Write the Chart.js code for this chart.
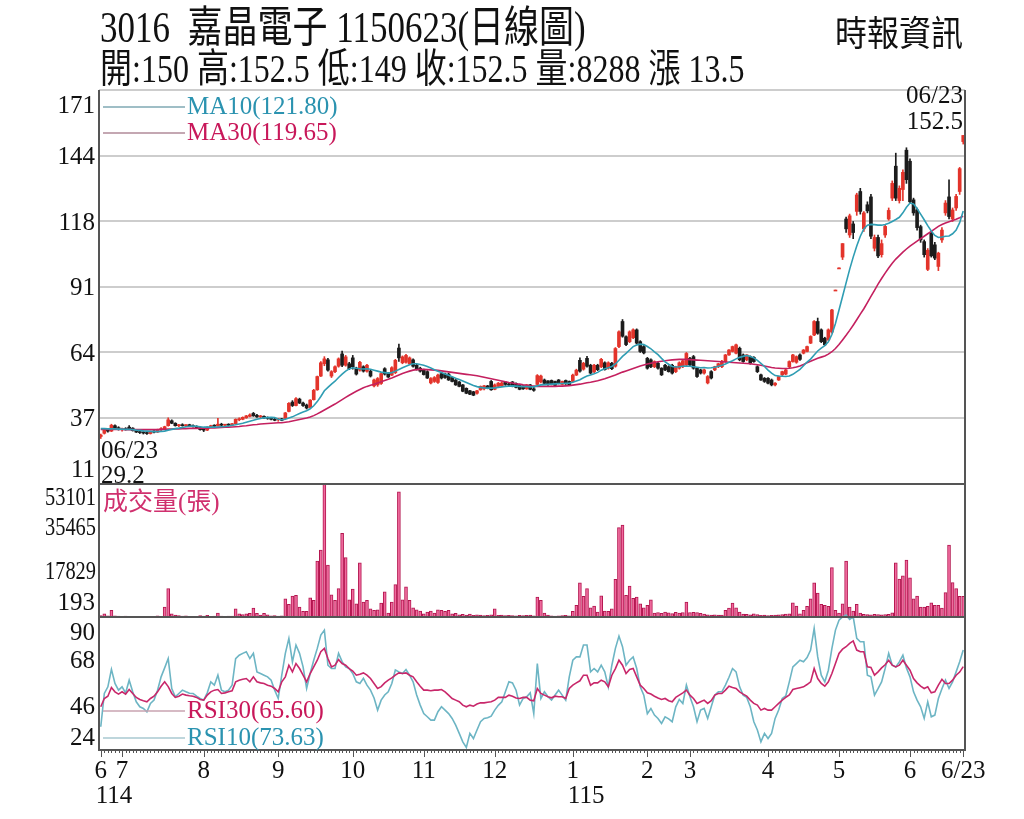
<!DOCTYPE html>
<html><head><meta charset="utf-8">
<script src="https://cdn.jsdelivr.net/npm/chart.js@4.4.1/dist/chart.umd.min.js"></script>
<style>
html,body{margin:0;padding:0;background:#fff;}
#wrap{position:relative;width:1024px;height:819px;overflow:hidden;background:#fff;}
canvas{position:absolute;left:0;top:0;}
.t{position:absolute;white-space:nowrap;font-family:"Liberation Serif","Noto Sans CJK TC",serif;color:#111;transform-origin:0 0;line-height:1;}
</style></head><body>
<div id="wrap">
<canvas id="c" width="1024" height="819"></canvas>
<div class="t" id="t1" style="left:100px;top:6px;font-size:35px;transform:scaleY(1.25)"></div>
<div class="t" id="t2" style="left:100px;top:48px;font-size:32px;transform:scaleY(1.25)"></div>
<div class="t" id="t3" style="left:835px;top:16px;font-size:32px;transform:scaleY(1.1)">時報資訊</div>
</div>
<script>
// ---------- DATA (daily, 2025/06/23 - 2026/06/23, 244 trading days) ----------
const stockCode = '3016', stockName = '嘉晶電子', chartDate = '1150623';
const firstDay = '06/23', lastDay = '06/23';
const opens = [
30.0,31.3,32.6,32.2,34.4,33.6,32.8,33.2,33.8,33.4,
32.4,31.8,31.6,31.4,31.2,31.9,31.8,32.8,33.2,34.4,
36.4,35.4,34.4,34.8,34.4,34.6,34.4,34.0,33.6,32.8,
32.6,33.8,34.4,34.4,35.0,34.6,34.8,34.6,35.2,36.8,
37.0,37.6,38.2,39.4,38.6,38.0,38.2,37.6,37.4,37.0,
36.8,37.2,37.4,40.2,44.0,42.6,45.2,43.6,42.8,41.8,
45.0,49.0,54.6,59.6,61.2,54.6,56.4,58.6,63.6,59.0,
59.6,62.0,57.8,57.0,58.4,56.6,56.6,50.6,51.0,51.6,
57.6,55.6,55.0,56.0,66.0,60.0,60.2,59.6,61.2,59.0,
57.8,57.0,56.4,51.8,52.4,52.0,55.6,55.4,55.4,54.0,
53.0,52.2,51.0,49.6,48.6,48.2,47.6,49.0,49.4,50.6,
52.4,49.2,50.4,50.6,52.2,51.2,52.2,51.6,51.0,50.2,
49.4,51.0,49.4,51.2,52.2,53.0,52.6,52.8,52.4,53.0,
51.2,52.8,52.4,52.4,55.0,61.0,57.4,61.8,59.0,56.4,
59.0,58.4,60.0,57.8,59.8,58.6,66.6,76.8,70.6,68.6,
70.2,73.4,68.6,66.6,61.8,61.2,58.4,59.8,57.8,59.0,
58.4,59.0,56.4,57.8,58.4,59.1,61.8,62.5,57.8,57.1,
55.8,51.8,56.4,57.1,58.4,58.4,60.5,63.2,64.6,63.9,
65.9,63.2,61.2,62.5,62.2,58.4,55.1,53.7,53.7,53.0,
51.0,53.0,55.1,55.4,58.4,60.5,60.2,63.2,63.9,64.6,
68.0,71.3,76.8,73.4,70.0,69.3,72.5,89.6,98.6,103.0,
118.5,112.0,116.5,121.6,129.7,114.5,124.3,127.5,106.6,111.0,
104.0,112.0,118.5,127.0,140.0,126.0,130.5,146.5,142.0,126.3,
122.2,115.4,109.3,98.0,112.7,108.0,99.2,110.0,121.0,127.5,
118.5,123.0,129.7,150.0];
const highs = [
31.0,32.8,33.2,35.0,34.8,34.0,33.4,33.6,34.4,33.6,
32.8,32.2,32.0,31.9,32.2,32.4,33.0,33.6,34.2,37.6,
36.8,35.6,35.0,35.2,34.9,35.0,34.8,34.4,33.8,33.2,
34.0,34.6,34.8,37.4,35.4,35.0,35.2,35.4,37.2,37.6,
38.0,38.6,39.2,39.8,39.0,38.6,38.4,38.0,37.8,37.4,
37.4,37.4,39.8,43.8,44.6,45.8,45.6,44.0,43.2,45.0,
49.2,54.6,60.5,62.5,61.8,56.8,58.8,62.0,64.8,63.0,
60.2,63.0,58.2,60.6,58.8,59.4,57.0,53.4,54.0,56.0,
58.0,56.0,58.4,61.4,67.6,62.8,63.4,62.4,61.6,59.4,
58.2,57.4,56.8,54.0,54.4,55.4,56.0,55.8,55.8,54.2,
53.2,52.4,51.2,49.8,48.8,48.4,48.8,50.6,50.8,50.8,
52.8,51.4,52.0,52.2,52.4,51.8,52.4,51.8,51.2,50.8,
51.2,51.2,50.0,55.2,55.0,53.4,52.8,53.0,52.6,53.2,
52.6,53.0,52.6,55.4,57.4,62.0,60.2,62.6,59.4,59.4,
59.4,61.8,60.4,60.4,60.2,66.2,73.0,77.6,71.0,73.0,
73.8,73.8,69.0,67.0,62.2,61.6,60.8,60.2,58.0,59.4,
58.8,59.4,58.6,60.4,61.2,64.2,62.2,63.0,58.2,57.4,
57.4,54.8,56.8,58.6,59.8,61.0,63.4,65.4,66.8,67.6,
66.4,63.6,63.4,62.8,62.5,58.8,55.4,54.0,54.0,53.4,
51.9,54.6,56.6,57.4,60.8,63.4,62.8,63.6,65.4,66.8,
71.0,77.2,78.2,73.8,70.4,73.8,81.8,89.6,98.6,108.5,
119.3,120.5,117.5,129.0,131.0,121.5,125.5,128.5,112.0,112.0,
110.0,116.0,123.0,134.0,145.3,132.0,138.5,147.5,143.0,127.0,
123.0,116.0,110.0,106.5,113.5,109.0,105.0,115.0,126.0,134.4,
123.0,128.5,139.5,152.5];
const lows = [
29.2,31.0,31.8,32.0,32.8,32.6,32.2,32.6,33.0,32.2,
31.6,31.2,31.0,30.8,31.0,31.5,31.6,32.4,33.0,34.2,
35.2,34.2,34.0,34.2,34.0,34.2,33.8,33.4,32.6,32.0,
32.4,33.6,34.0,34.2,34.4,34.2,34.4,34.4,35.0,36.4,
36.8,37.4,38.0,38.2,37.8,37.6,37.4,37.0,36.8,36.4,
36.2,36.4,37.2,40.0,42.2,42.4,43.4,42.2,41.2,41.6,
44.8,48.8,54.4,58.8,56.6,54.0,56.0,58.2,58.4,58.6,
57.2,57.4,55.0,56.6,56.2,56.2,54.2,50.2,50.4,51.2,
55.0,54.0,54.8,55.6,60.6,59.6,59.8,59.2,58.2,57.0,
56.2,55.0,53.6,51.4,52.0,51.6,53.4,53.6,52.8,52.2,
50.8,50.2,48.2,47.4,47.0,46.6,47.2,48.8,49.0,49.4,
48.8,49.0,50.2,50.4,50.8,50.6,50.2,49.8,49.0,49.2,
49.2,49.0,48.4,51.0,51.8,51.2,50.8,51.0,50.6,51.4,
51.0,51.2,50.8,52.2,54.8,56.2,57.0,58.2,55.4,56.0,
56.8,58.0,57.0,57.4,57.2,58.2,66.2,70.4,67.0,68.2,
69.8,67.6,64.2,63.6,57.4,58.0,58.0,57.4,54.8,56.8,
56.2,55.4,56.0,57.4,58.0,58.8,58.8,57.4,54.0,55.4,
55.4,51.4,53.4,56.8,58.0,58.0,60.2,63.0,64.4,63.6,
60.8,60.2,60.8,59.4,60.2,56.0,52.8,52.0,51.4,50.6,
50.6,52.8,54.8,55.1,58.0,60.2,59.8,61.0,63.6,64.4,
67.8,71.0,71.6,68.2,67.0,69.0,72.0,89.6,98.6,102.0,
113.0,111.0,110.5,120.0,120.5,113.5,121.0,110.5,105.5,102.8,
103.0,111.0,118.0,126.0,126.0,125.0,126.0,133.0,125.0,120.0,
114.0,109.0,103.0,97.5,103.0,102.0,97.5,109.0,120.0,118.5,
117.5,122.0,128.5,149.0];
const closes = [
30.6,32.6,32.2,34.6,33.0,32.8,33.2,32.8,33.2,32.4,
31.8,31.6,31.4,31.2,31.9,31.8,32.8,33.2,34.0,36.8,
35.4,34.4,34.8,34.4,34.6,34.4,34.0,33.6,32.8,32.6,
33.8,34.4,34.2,35.0,34.6,34.8,34.6,35.2,37.0,37.2,
37.8,38.4,38.8,38.4,38.0,38.2,37.6,37.4,37.0,36.6,
37.2,36.6,39.6,43.5,42.6,45.4,43.6,42.6,41.6,44.8,
48.8,54.4,60.0,61.6,57.0,56.4,58.4,61.6,59.0,62.4,
57.6,58.4,55.4,60.2,56.6,59.0,54.6,53.0,53.6,55.6,
55.4,54.2,58.0,61.0,62.0,62.4,63.0,62.0,58.6,57.2,
56.6,55.2,53.8,53.6,54.0,55.0,53.8,54.0,53.0,52.4,
51.0,50.4,48.4,47.6,47.2,46.8,48.6,50.4,50.6,49.8,
49.0,51.0,51.7,51.8,51.2,51.0,50.4,50.0,49.2,49.4,
51.0,49.2,48.8,54.8,54.6,51.6,51.2,51.4,50.8,51.8,
52.4,51.4,51.0,55.0,57.0,56.6,59.8,58.6,55.8,59.0,
57.2,61.4,57.2,60.0,57.6,65.8,72.6,70.8,67.4,72.6,
73.4,68.0,64.6,64.0,57.8,58.4,60.5,57.8,55.1,57.1,
56.4,55.8,58.4,60.0,60.8,63.8,59.1,57.8,54.4,55.8,
57.1,54.4,53.8,58.4,59.6,60.5,63.2,65.2,66.6,67.3,
61.2,60.5,63.2,59.8,60.5,56.4,53.0,52.4,51.7,51.0,
51.7,54.4,56.4,57.1,60.5,63.2,62.5,61.4,65.2,66.6,
70.7,76.8,72.0,68.6,67.3,73.4,81.5,89.6,98.6,108.5,
114.5,119.8,113.0,128.3,121.6,121.0,121.8,111.5,111.0,103.5,
108.5,115.5,122.0,133.0,127.0,131.0,137.5,134.5,125.5,121.0,
115.0,110.0,104.0,105.8,103.5,102.6,104.6,114.0,125.0,119.5,
122.2,127.7,139.0,152.5];
const ma10 = [
33.2,33.2,33.1,33.1,33.1,33.0,33.0,32.9,32.9,32.8,
32.6,32.5,32.3,32.2,32.1,32.0,32.0,32.1,32.2,32.6,
32.9,33.2,33.4,33.7,34.0,34.2,34.3,34.2,34.0,33.8,
33.8,33.8,33.8,33.9,34.0,34.1,34.3,34.6,34.8,35.1,
35.4,35.8,36.2,36.6,37.0,37.3,37.6,37.7,37.8,37.7,
37.0,36.8,37.0,37.5,38.0,38.7,39.4,40.0,40.5,41.3,
42.5,44.2,46.3,48.6,50.0,51.3,52.5,54.0,55.4,56.6,
57.5,58.0,57.8,57.6,57.5,57.6,57.4,57.0,56.6,56.2,
56.0,55.8,56.0,56.6,57.3,58.0,58.6,59.2,59.6,59.6,
59.3,59.0,58.5,57.9,57.2,56.6,56.0,55.4,54.9,54.3,
53.7,53.2,52.6,52.0,51.4,50.8,50.3,50.0,49.8,49.7,
49.7,49.8,50.0,50.2,50.4,50.5,50.6,50.5,50.4,50.3,
50.3,50.2,50.2,50.6,51.0,51.1,51.2,51.3,51.4,51.5,
51.6,51.7,51.7,52.1,52.6,53.1,53.9,54.6,55.0,55.5,
56.1,57.0,57.6,58.0,58.5,59.5,61.0,62.6,63.8,65.2,
66.6,67.2,67.6,67.4,66.6,65.7,64.4,63.3,61.8,60.4,
59.4,58.5,58.3,58.4,58.6,58.7,58.6,58.4,58.2,58.0,
58.1,57.9,58.0,58.2,58.6,59.0,59.5,60.2,60.8,61.6,
62.2,62.6,63.0,62.6,62.0,61.0,59.8,58.5,57.0,55.8,
54.8,54.6,54.5,54.4,54.6,55.3,56.3,57.3,58.8,60.3,
61.5,63.2,64.8,66.0,67.0,68.5,71.5,76.0,81.5,87.0,
92.5,98.0,103.0,107.5,111.5,114.5,116.0,116.3,116.2,116.0,
116.0,116.3,116.8,117.5,118.3,119.2,121.0,123.3,125.0,124.6,
122.8,120.5,118.2,115.8,113.6,111.8,111.0,111.2,111.5,111.6,
112.5,114.0,117.0,121.80];
const ma30 = [
32.9,32.9,32.9,32.9,32.9,32.9,32.9,32.8,32.8,32.8,
32.8,32.8,32.8,32.8,32.8,32.8,32.8,32.9,32.9,33.0,
33.0,33.1,33.1,33.2,33.2,33.3,33.3,33.3,33.4,33.4,
33.4,33.5,33.5,33.6,33.7,33.8,33.8,33.9,34.0,34.1,
34.3,34.4,34.6,34.8,34.9,35.1,35.2,35.3,35.4,35.5,
35.6,35.6,35.8,36.0,36.3,36.6,36.9,37.2,37.5,37.9,
38.5,39.2,40.0,40.8,41.6,42.4,43.2,44.1,45.0,45.9,
46.8,47.6,48.4,49.1,49.8,50.4,50.9,51.3,51.8,52.3,
52.8,53.3,53.8,54.4,55.0,55.6,56.1,56.6,57.0,57.2,
57.3,57.3,57.2,57.1,57.0,56.9,56.7,56.5,56.3,56.1,
55.9,55.7,55.5,55.3,55.1,54.9,54.7,54.4,54.1,53.8,
53.5,53.2,52.9,52.6,52.3,52.0,51.8,51.5,51.3,51.0,
50.8,50.6,50.5,50.4,50.4,50.4,50.4,50.4,50.4,50.5,
50.5,50.6,50.7,50.9,51.1,51.3,51.6,51.9,52.1,52.4,
52.7,53.1,53.5,54.0,54.5,55.0,55.6,56.2,56.7,57.2,
57.7,58.2,58.7,59.1,59.5,59.8,60.1,60.4,60.6,60.8,
61.0,61.2,61.3,61.4,61.4,61.4,61.3,61.2,61.1,61.0,
60.9,60.8,60.7,60.6,60.5,60.4,60.3,60.2,60.1,60.0,
59.9,59.8,59.7,59.6,59.4,59.2,59.0,58.7,58.4,58.1,
57.9,57.8,57.7,57.7,57.8,58.0,58.3,58.7,59.3,60.0,
60.6,61.2,61.8,62.3,62.8,63.5,64.5,65.8,67.4,69.3,
71.2,73.2,75.3,77.5,79.8,82.0,84.5,87.0,89.5,92.0,
94.3,96.5,98.6,100.5,102.2,103.6,105.0,106.3,107.5,108.5,
109.5,110.5,111.5,112.5,113.5,114.5,115.5,116.3,116.9,117.4,
117.9,118.4,119.0,119.65];
const volumes = [
600,1300,500,2700,500,400,300,400,300,300,
250,200,200,250,300,300,500,300,4000,11300,
1300,800,600,400,500,300,250,300,600,400,
700,300,400,1600,400,300,350,400,3300,1300,
1000,1300,1500,3600,1500,800,1500,900,500,600,
400,500,7300,5100,8400,8700,4000,2300,2300,7700,
6700,22300,26700,53101,20700,8900,6700,11300,33400,23700,
6900,11100,5300,21600,6000,6700,3300,2700,2900,5600,
10000,1600,6000,12900,50000,6900,12000,6700,3700,2900,
2400,1300,2000,2400,1600,2900,2700,2300,2700,1300,
1500,900,1100,800,1200,700,900,800,600,700,
900,3300,700,800,600,700,600,500,700,600,
700,800,500,8000,6700,1600,800,500,400,500,
600,700,500,2300,4700,13600,8300,11300,3700,4400,
2000,8500,2400,2300,3300,15000,35700,36700,8700,12300,
7500,8000,5300,3700,4700,6900,1600,1800,1500,2000,
1700,1400,1900,1600,1800,6000,1800,1900,1800,1500,
1200,900,800,900,800,800,2700,3600,5600,3700,
2000,1200,1100,900,1300,1000,700,800,600,700,
800,900,1000,1200,1300,5700,4400,1300,2700,4300,
7300,13600,9600,5100,4700,4300,19700,2700,1600,5300,
22300,4000,2400,5100,1600,1100,1000,900,1100,1000,
900,1000,1100,1700,21600,15100,16400,22700,15600,7300,
8400,4000,4000,4300,5700,4700,4700,3600,9700,28700,
13700,11300,8300,8288];
const rsi10 = [
36.7,52.7,55.9,64.3,57.5,54.3,55.9,53.0,59.1,53.5,
48.7,46.3,45.5,43.9,47.9,49.5,54.3,60.7,65.0,69.5,
55.1,51.1,52.7,54.3,53.5,52.8,52.7,51.4,50.3,49.5,
53.0,58.3,56.7,61.5,54.3,53.5,54.3,56.7,69.5,71.1,
72.0,72.8,69.5,72.0,63.1,62.3,61.5,60.7,59.1,54.3,
50.3,61.5,72.0,79.2,67.9,76.0,72.0,65.5,55.1,62.3,
68.7,74.4,80.8,83.2,66.3,64.7,64.7,72.0,68.0,65.5,
64.7,62.3,58.3,57.5,60.0,56.7,54.3,50.5,44.7,49.5,
52.0,53.5,57.5,64.0,63.1,62.3,64.2,61.5,58.3,52.0,
47.1,43.0,41.5,39.9,39.9,43.9,46.3,44.7,43.0,40.7,
37.5,33.5,29.4,26.7,33.5,31.0,35.1,39.1,40.7,41.0,
41.8,44.7,47.0,48.7,53.5,58.3,57.8,54.3,47.1,50.3,
51.1,53.0,43.0,67.1,50.3,53.5,51.1,49.5,52.0,54.3,
51.9,49.5,60.7,68.7,70.3,70.3,76.0,76.0,63.1,64.7,
63.1,66.3,63.1,55.9,66.3,74.4,80.3,75.2,66.3,68.7,
70.3,64.7,55.9,51.9,43.0,45.5,42.3,40.7,38.3,41.5,
40.5,39.1,46.3,49.8,47.9,56.7,51.1,46.3,39.1,44.7,
45.5,40.7,46.3,51.9,53.5,53.5,56.7,60.5,64.7,63.1,
55.9,51.9,50.8,46.3,39.1,35.1,29.4,33.5,31.0,33.5,
40.7,44.7,50.3,51.5,58.3,65.5,67.1,68.7,68.0,70.0,
73.6,84.0,70.3,61.5,58.3,63.9,74.4,83.2,88.0,89.5,
90.4,88.3,89.6,79.2,77.6,77.6,61.5,60.7,51.9,55.0,
58.3,64.7,72.0,66.3,65.5,67.9,71.1,65.0,60.7,53.5,
49.5,46.3,40.7,48.7,41.5,42.3,50.3,55.0,59.1,55.1,
58.3,63.1,68.0,73.63];
const rsi30 = [
46.3,50.3,51.4,55.6,53.5,52.4,53.5,52.4,54.6,52.7,
50.8,49.8,49.2,48.7,50.3,51.4,53.5,56.2,58.3,56.0,
52.7,50.8,51.4,52.4,51.9,51.6,51.4,50.8,49.8,49.5,
51.9,53.5,54.3,54.6,52.7,53.0,53.5,54.0,58.3,59.1,
59.5,59.9,58.3,60.7,58.3,57.8,57.5,56.7,56.2,55.1,
53.5,58.3,60.7,66.3,63.1,67.1,64.7,61.5,58.3,62.3,
65.5,68.7,72.8,74.4,69.5,65.5,66.3,69.0,67.1,66.3,
64.7,63.5,61.5,62.0,62.6,61.5,59.9,57.5,55.1,56.0,
57.8,59.1,60.2,61.5,62.6,62.3,62.6,61.5,60.7,58.3,
56.2,54.3,54.3,54.0,54.3,54.3,54.6,53.5,51.9,50.3,
49.5,48.7,47.1,46.3,47.1,46.6,47.6,48.2,48.2,48.5,
48.7,49.5,50.8,50.8,50.8,51.9,51.4,50.5,50.3,50.8,
50.8,49.5,49.2,55.1,52.7,51.9,51.1,50.6,51.4,51.1,
51.1,50.3,55.1,56.7,57.8,58.8,61.5,61.5,56.7,57.8,
57.8,59.1,58.3,55.9,61.5,64.7,68.7,66.3,62.3,64.2,
64.7,60.7,56.7,55.1,53.0,52.4,51.4,50.5,49.8,50.3,
49.2,48.7,50.8,51.9,53.0,54.3,51.9,50.3,47.9,48.7,
49.5,47.9,49.2,51.9,52.7,52.7,54.3,56.2,55.6,55.1,
53.5,52.4,51.4,49.5,47.9,47.1,44.7,45.5,44.7,44.7,
46.3,47.9,49.5,50.8,52.0,54.6,55.1,55.5,55.9,57.0,
58.3,64.7,59.9,57.5,56.2,58.3,62.3,67.1,72.0,74.0,
75.2,76.8,78.0,73.6,72.8,72.8,65.5,65.2,61.5,63.1,
65.0,66.5,68.7,66.3,65.5,66.3,68.7,66.3,63.9,59.9,
57.8,56.2,55.1,55.9,53.0,53.5,56.7,59.5,57.5,57.5,
59.1,61.5,63.0,65.60];

// axis tick values and labels
const priceTicks = [11, 37.667, 64.333, 91, 117.667, 144.333, 171];
const priceTickLabels = ['11','37','64','91','118','144','171'];
const volTicks = [193, 17829, 35465, 53101];
const rsiTicks = [90, 68, 46, 24];
// month starts (trading-day index), month label, year label (ROC)
const monthIdx = [0, 6, 29, 50, 71, 91, 111, 133, 154, 166, 188, 208, 228, 243];
const monthLabels = ['6','7','8','9','10','11','12','1','2','3','4','5','6','6/23'];
const yearMarks = [[0,'114'],[133,'115']];

// ---------- LAYOUT ----------
const N = closes.length;
const labels = closes.map((_, i) => String(i));
const PLOT = {left: 99, right: 965, top: 90, bottom: 750};
const BAND = {price: [90, 483.5], vol: [484, 617], rsi: [617, 750]};
function axisRange(vTop, vBot, pxTop, pxBot) {
  const k = (vTop - vBot) / (pxBot - pxTop);
  return {max: vTop + (pxTop - PLOT.top) * k, min: vBot - (PLOT.bottom - pxBot) * k};
}
const pr = axisRange(171, 11, 90, 483.2);
const vr = axisRange(53101, 0, 484, 617);
const rr = axisRange(89.5, 25.5, 617, 750);

const RED = '#e3342b', BLK = '#1c1c1c';
const candleColor = closes.map((c, i) => c >= opens[i] ? RED : BLK);
const FONT = '"Liberation Serif","Noto Sans CJK TC",serif';
const last = N - 1;

document.getElementById('t1').textContent = stockCode + '\u00a0\u00a0' + stockName + ' ' + chartDate + '(日線圖)';
document.getElementById('t2').textContent = '開:' + opens[last] + ' 高:' + highs[last] + ' 低:' + lows[last] +
  ' 收:' + closes[last] + ' 量:' + volumes[last] + ' 漲 ' + (closes[last] - closes[last - 1]).toFixed(1);

const decor = {
  id: 'decor',
  beforeDatasetsDraw(chart) {
    const {ctx, chartArea: a, scales} = chart;
    ctx.save();
    ctx.strokeStyle = '#cdcdcd'; ctx.lineWidth = 2;
    priceTicks.slice(1).forEach(t => {
      const y = Math.round(scales.yP.getPixelForValue(t));
      ctx.beginPath(); ctx.moveTo(a.left, y); ctx.lineTo(a.right, y); ctx.stroke();
    });
    ctx.restore();
  },
  afterDatasetsDraw(chart) {
    const {ctx, chartArea: a, scales} = chart;
    const x = scales.x;
    ctx.save();
    // frame
    ctx.strokeStyle = '#555'; ctx.lineWidth = 2;
    ctx.beginPath();
    ctx.moveTo(a.left, a.top); ctx.lineTo(a.left, a.bottom); ctx.lineTo(a.right, a.bottom); ctx.lineTo(a.right, a.top);
    ctx.moveTo(a.left, BAND.vol[0]); ctx.lineTo(a.right, BAND.vol[0]);
    ctx.moveTo(a.left, BAND.rsi[0]); ctx.lineTo(a.right, BAND.rsi[0]);
    ctx.stroke();
    // x ticks
    ctx.lineWidth = 1; ctx.strokeStyle = '#555';
    for (let i = 0; i < N; i++) {
      const px = Math.round(x.getPixelForValue(i)) + 0.5;
      const len = monthIdx.includes(i) ? 7 : 3;
      ctx.beginPath(); ctx.moveTo(px, a.bottom); ctx.lineTo(px, a.bottom + len); ctx.stroke();
    }
    ctx.fillStyle = '#111';
    ctx.font = '25px ' + FONT;
    ctx.textBaseline = 'middle';
    ctx.textAlign = 'center';
    monthIdx.forEach((idx, k) => ctx.fillText(monthLabels[k], x.getPixelForValue(idx), 771));
    ctx.textAlign = 'left';
    yearMarks.forEach(([idx, t]) => ctx.fillText(t, x.getPixelForValue(idx) - 5, 796));
    // y labels (right-aligned, slightly squeezed to fit the gutter like the original)
    ctx.textAlign = 'right';
    const lab = (txt, y, lo, hi) => {
      const yy = Math.max(lo, Math.min(hi, y));
      const w = ctx.measureText(txt).width;
      const maxW = 51;
      if (w > maxW) {
        ctx.save(); ctx.translate(96, yy); ctx.scale(maxW / w, 1); ctx.fillText(txt, 0, 0); ctx.restore();
      } else ctx.fillText(txt, 95, yy);
    };
    priceTicks.forEach((t, k) => lab(priceTickLabels[k], scales.yP.getPixelForValue(t) + 2, BAND.price[0] + 16, BAND.price[1] - 13));
    volTicks.forEach(t => lab(String(t), scales.yV.getPixelForValue(t), BAND.vol[0] + 14, BAND.vol[1] - 14));
    rsiTicks.forEach(t => lab(String(t), scales.yR.getPixelForValue(t), BAND.rsi[0] + 16, BAND.rsi[1] - 12));
    // legends
    ctx.textAlign = 'left';
    const legend = (y, lineCol, txtCol, txt) => {
      ctx.strokeStyle = lineCol; ctx.lineWidth = 1.5;
      ctx.beginPath(); ctx.moveTo(103, y); ctx.lineTo(185, y); ctx.stroke();
      ctx.fillStyle = txtCol; ctx.fillText(txt, 187, y);
    };
    legend(107, '#7fa9b3', '#2b93b0', 'MA10(' + ma10[last].toFixed(2) + ')');
    legend(133, '#b08a98', '#c8185a', 'MA30(' + ma30[last].toFixed(2) + ')');
    legend(711, '#c9a3b0', '#c8185a', 'RSI30(' + rsi30[last].toFixed(2) + ')');
    legend(738, '#a9c9d0', '#2b93b0', 'RSI10(' + rsi10[last].toFixed(2) + ')');
    ctx.fillStyle = '#d0306e';
    ctx.fillText('成交量(張)', 103, 503);
    // high / low annotations
    const hi = Math.max(...highs), lo = Math.min(...lows);
    ctx.fillStyle = '#111';
    ctx.textAlign = 'right';
    ctx.fillText(lastDay, 963, 96); ctx.fillText(String(hi), 963, 122);
    ctx.textAlign = 'left';
    ctx.fillText(firstDay, 101, 451); ctx.fillText(String(lo), 101, 476);
    ctx.restore();
  }
};

new Chart(document.getElementById('c'), {
  data: {
    labels,
    datasets: [
      {type: 'line', data: ma10, yAxisID: 'yP', borderColor: '#2f9db3', borderWidth: 1.6, pointRadius: 0, order: 0},
      {type: 'line', data: ma30, yAxisID: 'yP', borderColor: '#c4205f', borderWidth: 1.6, pointRadius: 0, order: 0},
      {type: 'bar', data: opens.map((o, i) => [o, closes[i]]), yAxisID: 'yP', backgroundColor: candleColor,
       barThickness: 3, minBarLength: 1, grouped: false, order: 1},
      {type: 'bar', data: lows.map((l, i) => [l, highs[i]]), yAxisID: 'yP', backgroundColor: candleColor,
       barThickness: 1, grouped: false, order: 2},
      {type: 'bar', data: volumes, yAxisID: 'yV', backgroundColor: '#f06a9e', borderColor: '#b3164f',
       borderWidth: 1, barThickness: 3, grouped: false, order: 3},
      {type: 'line', data: rsi30, yAxisID: 'yR', borderColor: '#c8276a', borderWidth: 1.6, pointRadius: 0, order: 0},
      {type: 'line', data: rsi10, yAxisID: 'yR', borderColor: '#6db5c4', borderWidth: 1.6, pointRadius: 0, order: 1}
    ]
  },
  options: {
    responsive: false, animation: false, devicePixelRatio: 1,
    layout: {padding: {left: PLOT.left, top: PLOT.top, right: 1024 - PLOT.right, bottom: 819 - PLOT.bottom}},
    plugins: {legend: {display: false}, tooltip: {enabled: false}},
    scales: {
      x: {type: 'category', display: false, offset: true},
      yP: {type: 'linear', display: false, min: pr.min, max: pr.max},
      yV: {type: 'linear', display: false, min: vr.min, max: vr.max},
      yR: {type: 'linear', display: false, min: rr.min, max: rr.max}
    }
  },
  plugins: [decor]
});
</script>
</body></html>
